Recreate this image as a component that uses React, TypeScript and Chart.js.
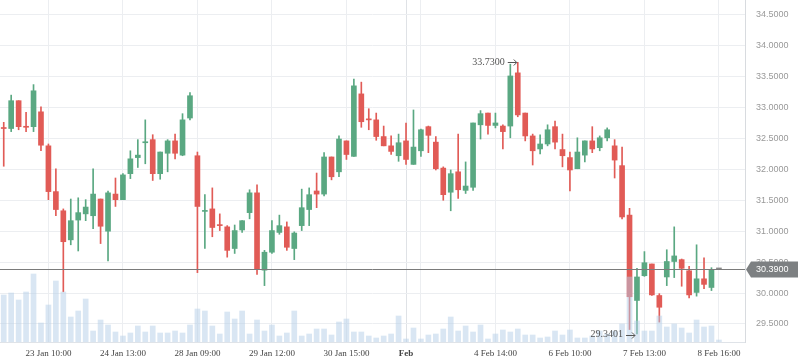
import React, { useEffect, useRef } from 'react';
import { Chart, registerables } from 'chart.js';

Chart.register(...registerables);

// Hourly candles (index 0..96); 3 empty slots follow on the right.
const opens = [
  32.67, 32.66, 33.11, 32.69, 32.69, 32.93, 32.38, 31.64, 31.33, 30.86,
  31.18, 31.28, 31.25, 31.52, 31.0, 31.6, 31.51, 31.93, 32.19, 32.43,
  32.48, 31.93, 32.26, 32.46, 32.23, 32.83, 32.22, 31.32, 31.36, 31.1,
  31.07, 30.72, 31.02, 31.3, 31.62, 30.37, 30.66, 30.98, 31.07, 30.72,
  31.09, 31.35, 31.65, 31.6, 32.2, 31.96, 32.46, 32.21, 33.22, 32.81,
  32.8, 32.53, 32.38, 32.22, 32.46, 32.08, 32.3, 32.69, 32.44, 32.02,
  31.63, 31.96, 31.66, 31.71, 32.72, 32.91, 32.71, 32.7, 32.7, 33.56,
  32.91, 32.54, 32.33, 32.41, 32.69, 32.32, 32.19, 32.01, 32.23, 32.46,
  32.35, 32.51, 32.38, 32.06, 31.26, 29.88, 30.28, 30.47, 29.96, 30.26,
  30.51, 30.54, 30.36, 30.01, 30.23, 30.09, 30.39,
];
const highs = [
  32.76, 33.2, 33.11, 32.92, 33.37, 33.01, 32.41, 32.01, 31.36, 31.52,
  31.54, 31.51, 32.01, 31.52, 31.65, 31.86, 31.93, 32.3, 32.48, 32.8,
  32.56, 32.28, 32.48, 32.57, 32.9, 33.24, 32.28, 31.59, 31.7, 31.28,
  31.09, 31.1, 31.17, 31.67, 31.75, 30.69, 31.17, 31.26, 31.15, 30.99,
  31.68, 31.7, 31.94, 32.27, 32.2, 32.54, 32.46, 33.46, 33.41, 32.98,
  32.91, 32.7, 32.54, 32.57, 32.75, 32.96, 32.65, 32.7, 32.53, 32.04,
  31.99, 32.57, 32.12, 32.75, 32.95, 32.91, 32.91, 32.72, 33.7, 33.73,
  32.91, 32.57, 32.56, 32.72, 32.78, 32.57, 32.28, 32.51, 32.46, 32.69,
  32.54, 32.67, 32.48, 32.36, 31.37, 30.4, 30.67, 30.47, 29.99, 30.7,
  31.07, 30.55, 30.43, 30.78, 30.57, 30.41, 30.39,
];
const lows = [
  32.05, 32.61, 32.64, 32.61, 32.61, 32.3, 31.51, 31.25, 30.02, 30.78,
  30.68, 31.17, 31.04, 30.8, 30.52, 31.4, 31.51, 31.85, 32.03, 32.09,
  31.82, 31.84, 31.96, 32.17, 32.22, 32.8, 30.33, 30.72, 30.91, 31.01,
  30.58, 30.64, 30.98, 31.2, 30.3, 30.12, 30.64, 30.95, 30.69, 30.54,
  31.01, 31.09, 31.38, 31.57, 31.83, 31.88, 32.16, 32.21, 32.68, 32.64,
  32.47, 32.38, 32.24, 32.13, 32.08, 32.08, 32.21, 32.27, 31.99, 31.5,
  31.33, 31.53, 31.61, 31.66, 32.49, 32.57, 32.67, 32.33, 32.51, 32.85,
  32.46, 32.07, 32.25, 32.38, 32.33, 32.04, 31.65, 32.01, 32.12, 32.27,
  32.3, 32.46, 31.86, 31.2, 29.41, 29.3401, 30.27, 29.96, 29.53, 30.12,
  30.25, 30.11, 29.92, 29.95, 30.07, 30.04, 30.39,
];
const closes = [
  32.66, 33.11, 32.69, 32.68, 33.27, 32.39, 31.64, 31.35, 30.83, 31.17,
  31.3, 31.39, 31.6, 31.08, 31.62, 31.51, 31.91, 32.17, 32.23, 32.44,
  31.93, 32.28, 32.46, 32.26, 32.8, 33.19, 31.4, 31.33, 31.06, 31.09,
  30.69, 31.01, 31.17, 31.62, 30.39, 30.66, 31.01, 31.09, 30.74, 30.97,
  31.38, 31.59, 31.6, 32.2, 31.88, 32.49, 32.24, 33.35, 32.77, 32.8,
  32.53, 32.38, 32.29, 32.43, 32.16, 32.36, 32.64, 32.55, 32.01, 31.59,
  31.93, 31.67, 31.73, 32.75, 32.9, 32.71, 32.75, 32.61, 33.51, 32.88,
  32.54, 32.3, 32.41, 32.64, 32.44, 32.22, 31.99, 32.28, 32.46, 32.33,
  32.51, 32.64, 32.15, 31.23, 29.94, 30.26, 30.49, 29.97, 29.77, 30.51,
  30.6, 30.4, 29.97, 30.23, 30.14, 30.38, 30.39,
];
const volumes = [
  47, 49, 42, 50, 68, 19, 37, 61, 50, 25,
  31, 43, 11, 22, 17, 10, 6, 9, 16, 10,
  16, 9, 9, 11, 9, 17, 33, 31, 16, 8,
  30, 23, 31, 8, 22, 11, 17, 6, 9, 31,
  6, 8, 13, 13, 7, 20, 23, 10, 10, 6,
  4, 6, 8, 26, 3, 14, 3, 7, 8, 13,
  25, 11, 16, 10, 17, 3, 8, 12, 10, 13,
  7, 7, 4, 5, 11, 7, 12, 4, 4, 6,
  11, 8, 11, 18, 65, 21, 11, 11, 26, 15,
  18, 14, 9, 22, 15, 16, 2,
];

const slotCount = 100;
const slots = Array.from({ length: slotCount }, (_, i) => String(i));
const xTickIndex = [6, 16, 26, 36, 46, 54, 56, 66, 76, 86, 96];
const xTickText = [
  '23 Jan 10:00', '24 Jan 13:00', '28 Jan 09:00', '29 Jan 12:00', '30 Jan 15:00',
  'Feb', '', '4 Feb 14:00', '6 Feb 10:00', '7 Feb 13:00', '8 Feb 16:00',
];
const monthTickIndex = 54;
const yTicks = [29.5, 30, 30.5, 31, 31.5, 32, 32.5, 33, 33.5, 34, 34.5];
const yMin = 29.2084;
const yMax = 34.738;
const volMax = 342;

const GREEN = '#5aa882';
const RED = '#e15b56';
const FLAT = '#8a8a8a';
const GRID = '#eceef1';

const candleColors = opens.map((o, i) =>
  closes[i] > o ? GREEN : closes[i] < o ? RED : FLAT
);

function drawArrowLabel(ctx: CanvasRenderingContext2D, text: string, xEnd: number, y: number) {
  const aw = 9;
  ctx.strokeStyle = '#555';
  ctx.lineWidth = 1;
  ctx.beginPath();
  const yy = Math.round(y) + 0.5;
  ctx.moveTo(xEnd - aw, yy);
  ctx.lineTo(xEnd, yy);
  ctx.moveTo(xEnd - 3, yy - 3);
  ctx.lineTo(xEnd, yy);
  ctx.lineTo(xEnd - 3, yy + 3);
  ctx.stroke();
  ctx.fillText(text, xEnd - aw - 3, y);
}

const overlayPlugin = {
  id: 'overlay',
  afterDatasetsDraw(chart: any) {
    const { ctx, chartArea, scales } = chart;
    const x = scales.x;
    const y = scales.y;
    const last = closes[closes.length - 1];
    const py = Math.round(y.getPixelForValue(last)) + 0.5;
    ctx.save();
    ctx.strokeStyle = '#7b7b7b';
    ctx.lineWidth = 1;
    ctx.beginPath();
    ctx.moveTo(chartArea.left, py);
    ctx.lineTo(chartArea.right, py);
    ctx.stroke();

    let hi = 0;
    let lo = 0;
    highs.forEach((h, i) => { if (h > highs[hi]) hi = i; });
    lows.forEach((l, i) => { if (l < lows[lo]) lo = i; });
    ctx.font = '10px "Liberation Serif"';
    ctx.fillStyle = '#555';
    ctx.textAlign = 'right';
    ctx.textBaseline = 'middle';
    drawArrowLabel(ctx, highs[hi].toFixed(4), x.getPixelForValue(hi) - 1, y.getPixelForValue(highs[hi]));
    drawArrowLabel(ctx, lows[lo].toFixed(4), x.getPixelForValue(lo) - 2, y.getPixelForValue(lows[lo]) + 1);
    ctx.restore();
  },
  afterDraw(chart: any) {
    const { ctx, chartArea, scales } = chart;
    const last = closes[closes.length - 1];
    const py = scales.y.getPixelForValue(last) + 0.5;
    const left = chartArea.right + 1;
    ctx.save();
    ctx.fillStyle = '#7d8082';
    ctx.beginPath();
    ctx.moveTo(left, py);
    ctx.lineTo(left + 5, py - 8);
    ctx.lineTo(chart.width, py - 8);
    ctx.lineTo(chart.width, py + 8);
    ctx.lineTo(left + 5, py + 8);
    ctx.closePath();
    ctx.fill();
    ctx.fillStyle = '#ffffff';
    ctx.font = '9px "Liberation Sans"';
    ctx.textAlign = 'left';
    ctx.textBaseline = 'middle';
    ctx.fillText(last.toFixed(4), chartArea.right + 11, py);
    ctx.restore();
  },
};

export default function App() {
  const ref = useRef<HTMLCanvasElement>(null);
  useEffect(() => {
    if (!ref.current) return;
    const chart = new Chart(ref.current, {
      type: 'bar',
      data: {
        labels: slots,
        datasets: [
          {
            label: 'Volume',
            data: volumes,
            yAxisID: 'yVol',
            backgroundColor: 'rgba(180,205,232,0.5)',
            barThickness: 5,
            grouped: false,
            order: 0,
          } as any,
          {
            label: 'Body',
            data: opens.map((o, i) => [o, closes[i]]),
            yAxisID: 'y',
            backgroundColor: candleColors,
            barThickness: 5,
            minBarLength: 1,
            grouped: false,
            order: 1,
          } as any,
          {
            label: 'Wick',
            data: lows.map((l, i) => [l, highs[i]]),
            yAxisID: 'y',
            backgroundColor: candleColors,
            barThickness: 1,
            grouped: false,
            order: 2,
          } as any,
        ],
      },
      options: {
        animation: false,
        responsive: false,
        devicePixelRatio: 1,
        layout: { padding: 0 },
        plugins: {
          legend: { display: false },
          tooltip: { enabled: false },
        },
        scales: {
          x: {
            type: 'category',
            offset: true,
            grid: {
              offset: false,
              drawTicks: false,
              color: (c: any) => (c.tick && c.tick.value === monthTickIndex ? '#dfe2e6' : GRID),
            },
            border: { color: '#dfe3e8' },
            ticks: {
              autoSkip: false,
              maxRotation: 0,
              minRotation: 0,
              padding: 6,
              color: '#444',
              font: (c: any) => ({
                family: '"Liberation Serif"',
                size: 9,
                weight: c.tick && c.tick.value === monthTickIndex ? 'bold' : 'normal',
              }),
              callback: (_v: any, i: number) => xTickText[i],
            },
            afterBuildTicks: (s: any) => {
              s.ticks = xTickIndex.map((v) => ({ value: v }));
            },
            afterFit: (s: any) => {
              s.height = 21;
              s.paddingLeft = 0;
              s.paddingRight = 0;
            },
          } as any,
          y: {
            type: 'linear',
            position: 'right',
            min: yMin,
            max: yMax,
            grid: { color: GRID, drawTicks: false },
            border: { color: '#d8dbdf' },
            ticks: {
              padding: 11,
              color: '#999',
              font: { family: '"Liberation Sans"', size: 9 },
              callback: (v: any) => Number(v).toFixed(4),
            },
            afterBuildTicks: (s: any) => {
              s.ticks = yTicks.map((v) => ({ value: v }));
            },
            afterFit: (s: any) => {
              s.width = 53;
              s.paddingTop = 0;
              s.paddingBottom = 0;
            },
          } as any,
          yVol: {
            type: 'linear',
            display: false,
            min: 0,
            max: volMax,
          },
        },
      },
      plugins: [overlayPlugin],
    });
    return () => chart.destroy();
  }, []);
  return (
    <div style={{ position: 'absolute', left: 0, top: 0, width: 798, height: 363, background: '#fff' }}>
      <canvas ref={ref} width={798} height={363} style={{ display: 'block', width: 798, height: 363 }} />
    </div>
  );
}
